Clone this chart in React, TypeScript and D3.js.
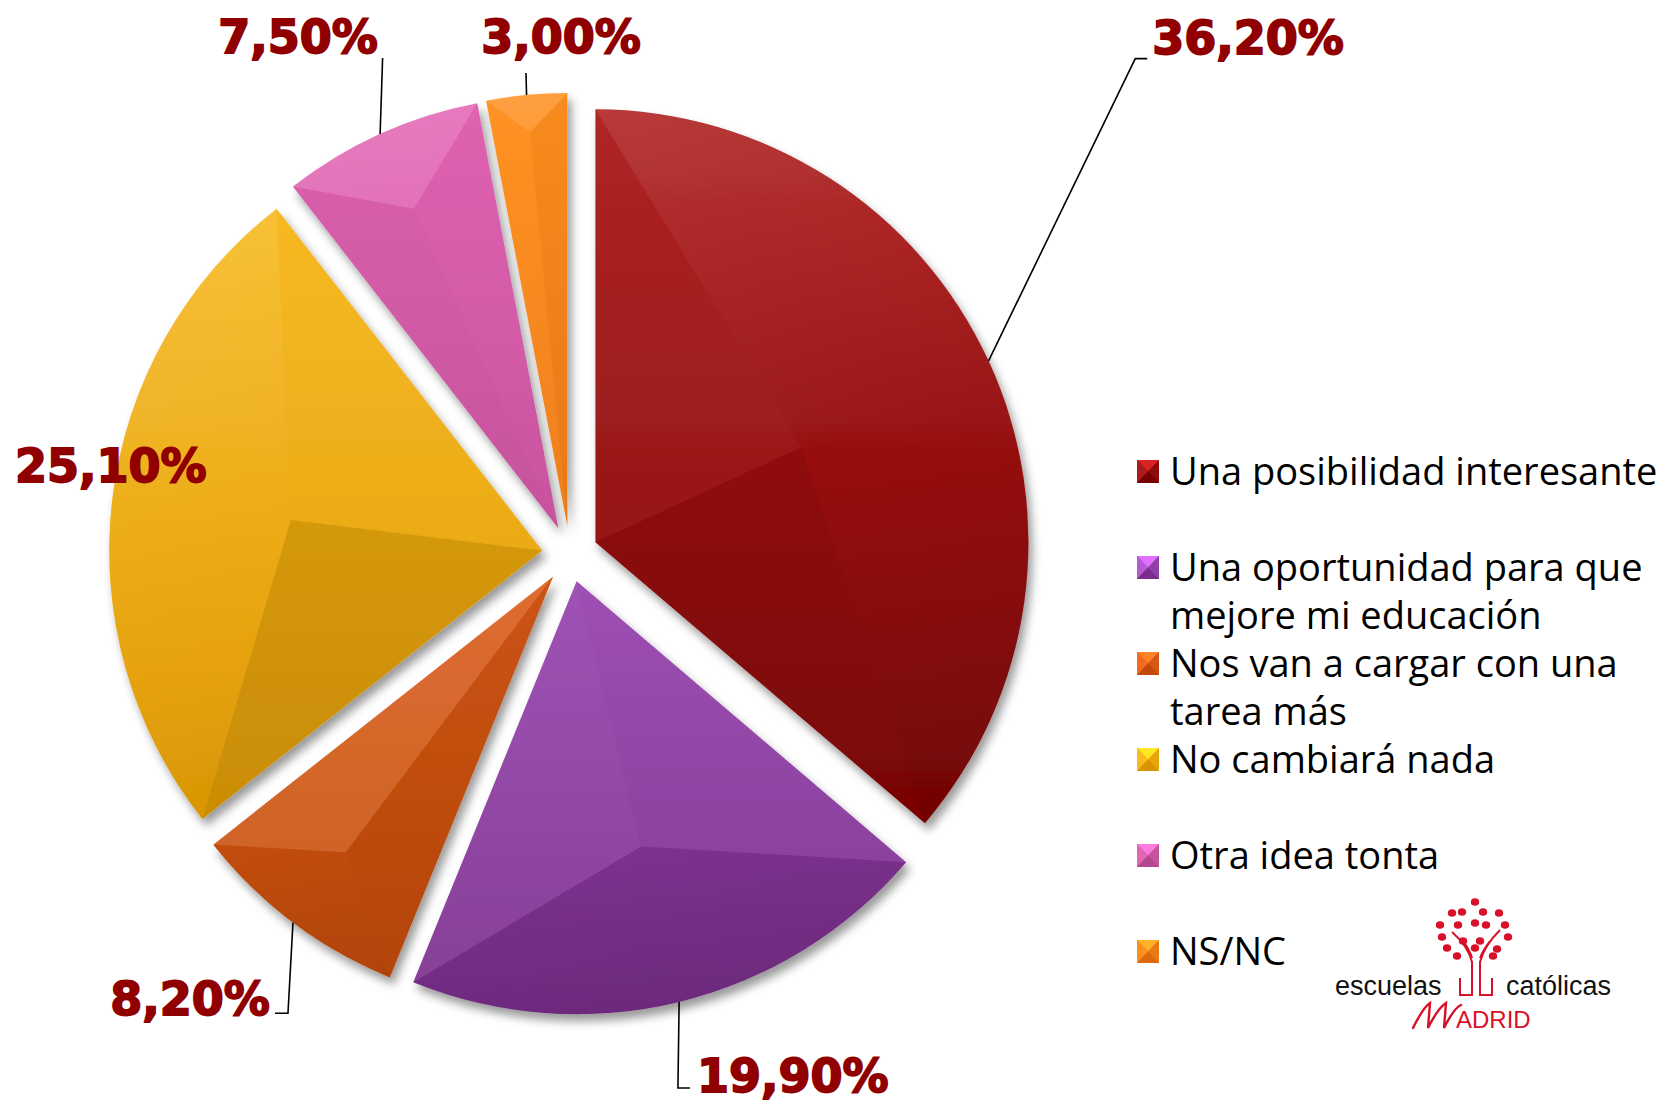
import React from 'react';
import * as d3 from 'd3';

// ---- data ----
const categories = [
  'Una posibilidad interesante',
  'Una oportunidad para que mejore mi educación',
  'Nos van a cargar con una tarea más',
  'No cambiará nada',
  'Otra idea tonta',
  'NS/NC',
];
const legendLines = [
  ['Una posibilidad interesante'],
  ['Una oportunidad para que', 'mejore mi educación'],
  ['Nos van a cargar con una', 'tarea más'],
  ['No cambiará nada'],
  ['Otra idea tonta'],
  ['NS/NC'],
];
const values = [36.2, 19.9, 8.2, 25.1, 7.5, 3.0];
const lightColors = ['#ad1c1c', '#b65ad4', '#f66a20', '#fabb1c', '#e464b4', '#ff9020'];
const darkColors = ['#760000', '#7a2e8c', '#bf4a0a', '#da9400', '#b44890', '#de6a10'];

// ---- layout ----
const W = 1665;
const H = 1102;
const cx = 570;
const cy = 554;
const R = 433;
const explode = 28;
const LIGHT: [number, number] = (() => {
  const l = Math.hypot(-0.35, -1);
  return [-0.35 / l, -1 / l];
})();

// label placement, relative to the slice arc midpoint
const labelLayout = [
  { leader: [[146.7, -302.2], [158.7, -302.2]], text: [163.7, -307.2], anchor: 'start' },
  { leader: [[-1.2, 86.1], [10.8, 86.1]], text: [17.8, 90], anchor: 'start' },
  { leader: [[-5, 90.7], [-18, 90.7]], text: [-23, 92.7], anchor: 'end' },
  { leader: null, text: [-97.4, -16.3], anchor: 'start' },
  { leader: [[2.5, -76]], text: [-2.2, -81], anchor: 'end' },
  { leader: [[-0.6, -22]], text: [34.4, -42], anchor: 'middle' },
];

const legendX = 1137;
const legendY0 = 485;
const legendStep = 96;
const legendLine = 47.5;

const esLocale = d3.formatLocale({ decimal: ',', thousands: '.', grouping: [3], currency: ['', '€'] });
const fmt = (v: number) => esLocale.format('.2f')(v) + '%';

// logo dots (decorative)
const logoDots = [
  [1475, 902], [1452, 913], [1462, 912], [1483, 912], [1499, 913],
  [1440, 925], [1458, 925], [1475, 923], [1486, 925], [1505, 925],
  [1442, 937], [1463, 941], [1480, 941], [1508, 937],
  [1447, 948], [1475, 948], [1497, 949], [1457, 956], [1493, 956],
];

const pt = (a: number, r: number): [number, number] => [r * Math.sin(a), -r * Math.cos(a)];
const shade = (n: [number, number]) => n[0] * LIGHT[0] + n[1] * LIGHT[1];
const overlay = (s: number) =>
  s >= 0 ? { fill: '#ffffff', opacity: 0.12 * s } : { fill: '#000000', opacity: 0.1 * -s };

const Logo = () => (
  <g>
    {logoDots.map((d, i) => (
      <ellipse key={i} cx={d[0]} cy={d[1]} rx={4.2} ry={3.8} fill="#d8102a" />
    ))}
    <path
      d="M1452,932 Q1468,946 1472,962 L1472,995 L1460,995 L1460,978 M1500,930 Q1484,946 1480,962 L1480,995 L1492,995 L1492,978 M1463,941 Q1470,950 1472,958 M1490,941 Q1483,950 1480,958"
      fill="none"
      stroke="#d8102a"
      strokeWidth={2}
    />
    <text x={1335} y={995} fontFamily="Liberation Sans, Arial, sans-serif" fontSize={27} fill="#111">
      escuelas
    </text>
    <text x={1506} y={995} fontFamily="Liberation Sans, Arial, sans-serif" fontSize={27} fill="#111">
      católicas
    </text>
    <path
      d="M1413,1028 C1419,1016 1425,1006 1430,1003 L1428,1028 C1434,1016 1441,1006 1446,1003 L1444,1028 C1450,1016 1456,1007 1461,1005"
      fill="none"
      stroke="#d8102a"
      strokeWidth={2.4}
      strokeLinecap="round"
    />
    <text x={1456} y={1028} fontFamily="Liberation Sans, Arial, sans-serif" fontSize={24} fill="#d8102a">
      ADRID
    </text>
  </g>
);

export default function App() {
  const pie = d3.pie<number>().sort(null).value((d) => d)(values);
  const arc = d3.arc<d3.PieArcDatum<number>>().innerRadius(0).outerRadius(R);

  return (
    <div style={{ position: 'absolute', left: 0, top: 0, width: W, height: H, background: '#fff' }}>
      <svg width={W} height={H} viewBox={`0 0 ${W} ${H}`}>
        <defs>
          <filter id="shadow" x="-20%" y="-20%" width="140%" height="140%">
            <feDropShadow dx={4} dy={7} stdDeviation={5} floodColor="#000" floodOpacity={0.4} />
          </filter>
          {pie.map((p, i) => (
            <linearGradient key={i} id={`base${i}`} gradientUnits="userSpaceOnUse" x1={0} y1={-R} x2={0} y2={R}>
              <stop offset="0" stopColor={lightColors[i]} />
              <stop offset="1" stopColor={darkColors[i]} />
            </linearGradient>
          ))}
          <linearGradient
            id="arcShade"
            gradientUnits="userSpaceOnUse"
            x1={-R * LIGHT[0]}
            y1={-R * LIGHT[1]}
            x2={R * LIGHT[0]}
            y2={R * LIGHT[1]}
          >
            <stop offset="0" stopColor="#000" stopOpacity={0.12} />
            <stop offset="0.5" stopColor="#000" stopOpacity={0} />
            <stop offset="0.5" stopColor="#fff" stopOpacity={0} />
            <stop offset="1" stopColor="#fff" stopOpacity={0.14} />
          </linearGradient>
        </defs>

        {/* slices */}
        {pie.map((p, i) => {
          const mid = (p.startAngle + p.endAngle) / 2;
          const half = (p.endAngle - p.startAngle) / 2;
          const [ox, oy] = pt(mid, explode);
          const t = R / (1 + Math.sin(Math.min(half, Math.PI / 2)));
          const I = pt(mid, t);
          const P0 = pt(p.startAngle, R);
          const P1 = pt(p.endAngle, R);
          const nLeft: [number, number] = [-Math.cos(p.startAngle), -Math.sin(p.startAngle)];
          const nRight: [number, number] = [Math.cos(p.endAngle), Math.sin(p.endAngle)];
          const oL = overlay(shade(nLeft));
          const oR = overlay(shade(nRight));
          const arcPath = d3.path();
          arcPath.moveTo(I[0], I[1]);
          arcPath.lineTo(P0[0], P0[1]);
          arcPath.arc(0, 0, R, p.startAngle - Math.PI / 2, p.endAngle - Math.PI / 2);
          arcPath.closePath();
          return (
            <g key={i} transform={`translate(${cx + ox},${cy + oy})`}>
              <path d={arc(p) || ''} fill={`url(#base${i})`} filter="url(#shadow)" />
              <path d={arcPath.toString()} fill="url(#arcShade)" />
              <path d={`M0,0L${P0[0]},${P0[1]}L${I[0]},${I[1]}Z`} fill={oL.fill} fillOpacity={oL.opacity} />
              <path d={`M0,0L${P1[0]},${P1[1]}L${I[0]},${I[1]}Z`} fill={oR.fill} fillOpacity={oR.opacity} />
            </g>
          );
        })}

        {/* labels and leader lines */}
        {pie.map((p, i) => {
          const mid = (p.startAngle + p.endAngle) / 2;
          const [mx, my] = pt(mid, R + explode);
          const ax = cx + mx;
          const ay = cy + my;
          const lay = labelLayout[i];
          const pts = lay.leader ? [[0, 0], ...lay.leader].map((q) => [ax + q[0], ay + q[1]]) : null;
          return (
            <g key={i}>
              {pts && (
                <polyline
                  points={pts.map((q) => q.join(',')).join(' ')}
                  fill="none"
                  stroke="#000"
                  strokeWidth={1.6}
                />
              )}
              <text
                x={ax + lay.text[0]}
                y={ay + lay.text[1]}
                textAnchor={lay.anchor as any}
                fontFamily="DejaVu Sans, sans-serif"
                fontWeight="bold"
                fontSize={46}
                fill="#900000"
                stroke="#900000"
                strokeWidth={1.8}
              >
                {fmt(values[i])}
              </text>
            </g>
          );
        })}

        {/* legend */}
        {categories.map((c, i) => {
          const by = legendY0 + i * legendStep;
          const x0 = legendX;
          const y0 = by - 25;
          const w = 22;
          const h = 23;
          const mxm = x0 + w / 2;
          const mym = y0 + h / 2;
          return (
            <g key={c}>
              <rect x={x0} y={y0} width={w} height={h} fill={d3.interpolateRgb(lightColors[i], darkColors[i])(0.5)} />
              <path d={`M${x0},${y0}L${x0 + w},${y0}L${mxm},${mym}Z`} fill={d3.color(lightColors[i])!.brighter(0.6).formatHex()} />
              <path d={`M${x0},${y0}L${x0},${y0 + h}L${mxm},${mym}Z`} fill={lightColors[i]} />
              <path d={`M${x0 + w},${y0}L${x0 + w},${y0 + h}L${mxm},${mym}Z`} fill={d3.interpolateRgb(lightColors[i], darkColors[i])(0.6)} />
              <path d={`M${x0},${y0 + h}L${x0 + w},${y0 + h}L${mxm},${mym}Z`} fill={darkColors[i]} />
              {legendLines[i].map((line, j) => (
                <text
                  key={j}
                  x={1170}
                  y={by + j * legendLine}
                  fontFamily="Open Sans, sans-serif"
                  fontSize={38}
                  fill="#000"
                >
                  {line}
                </text>
              ))}
            </g>
          );
        })}

        <Logo />
      </svg>
    </div>
  );
}
